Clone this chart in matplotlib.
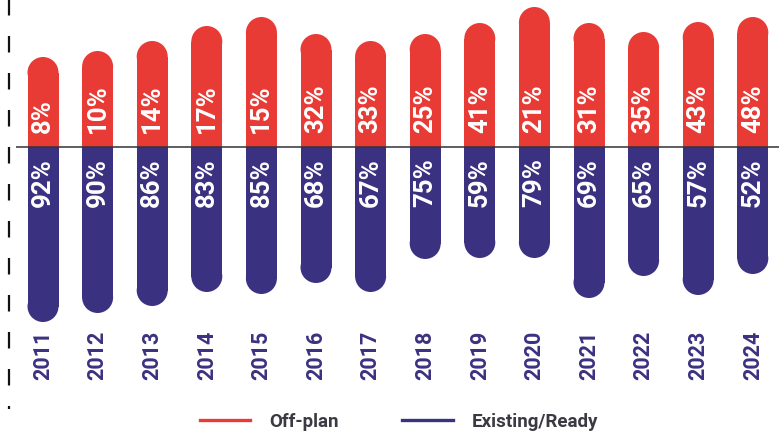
import numpy as np
import matplotlib
matplotlib.use('Agg')
import matplotlib.pyplot as plt
from matplotlib.lines import Line2D
from matplotlib.patches import Ellipse

years = ['2011', '2012', '2013', '2014', '2015', '2016', '2017',
         '2018', '2019', '2020', '2021', '2022', '2023', '2024']
off_plan_pct = [8, 10, 14, 17, 15, 32, 33, 25, 41, 21, 31, 35, 43, 48]
existing_pct = [92, 90, 86, 83, 85, 68, 67, 75, 59, 79, 69, 65, 57, 52]
# bar lengths (arbitrary units) above / below the baseline
off_plan_len = [90, 96, 106, 121, 130, 113, 106, 113, 124, 140, 124, 115, 125, 130]
existing_len = [175, 166, 159, 145, 147, 136, 145, 112, 111, 111, 151, 129, 148, 127]

RED = '#e83b36'
BLUE = '#3b3181'
NARROW = ['Liberation Sans Narrow', 'Roboto', 'DejaVu Sans']

plt.rcParams['lines.scale_dashes'] = False

W, H, DPI = 784, 437, 100
fig = plt.figure(figsize=(W / DPI, H / DPI), dpi=DPI)
ax = fig.add_axes([0, 0, 1, 1])

x0, step = 43, 54.6          # first bar centre and spacing in px
base = 147                   # baseline, px from top
ax.set_xlim(-x0 / step, (W - x0) / step)
ax.set_ylim(-(H - base), base)
ax.axis('off')

x = np.arange(len(years))
bw_px = 31
r = bw_px / 2
bw = bw_px / step

off = np.array(off_plan_len)
ex = np.array(existing_len)

# straight part of each bar plus a round cap at the far end
ax.bar(x, off - r, width=bw, color=RED, linewidth=0, zorder=2)
ax.bar(x, -(ex - r), width=bw, color=BLUE, linewidth=0, zorder=2)
for i in range(len(years)):
    ax.add_patch(Ellipse((x[i], off[i] - r), bw, 2 * r, color=RED,
                         lw=0, zorder=2))
    ax.add_patch(Ellipse((x[i], -(ex[i] - r)), bw, 2 * r, color=BLUE,
                         lw=0, zorder=2))

# baseline
ax.plot([(16 - x0) / step, (779 - x0) / step], [0, 0], color='#333333',
        lw=1.1, zorder=3, solid_capstyle='butt')

for i in range(len(years)):
    ax.text(x[i], 14, f'{off_plan_pct[i]}%', rotation=90, ha='center',
            va='bottom', color='white', fontsize=18.5, fontweight='bold',
            family=NARROW, zorder=4)
    ax.text(x[i], -11, f'{existing_pct[i]}%', rotation=90, ha='center',
            va='top', color='white', fontsize=18.5, fontweight='bold',
            family=NARROW, zorder=4)
    ax.text(x[i], -208, years[i], rotation=90, ha='center', va='center',
            color=BLUE, fontsize=15.5, fontweight='bold', family=NARROW)

# dashed rule on the left
xd = (9 - x0) / step
dash = ax.plot([xd, xd], [base + 8, base - 409], color='#111111', lw=1.6,
               solid_capstyle='butt', dash_capstyle='butt')[0]
dash.set_dashes((16.5 * 72 / DPI, 20.5 * 72 / DPI))

handles = [Line2D([], [], color=RED, lw=2.4),
           Line2D([], [], color=BLUE, lw=2.4)]
fig.legend(handles, ['Off-plan', 'Existing/Ready'], loc='center',
           bbox_to_anchor=(399 / W, 15 / H), ncol=2, frameon=False,
           handlelength=2.7, handletextpad=1.0, columnspacing=3.4,
           prop={'family': ['Roboto', 'DejaVu Sans'], 'size': 13.5,
                 'weight': 'semibold'},
           labelcolor='#3a3a42')

fig.savefig('out.png', dpi=DPI)
